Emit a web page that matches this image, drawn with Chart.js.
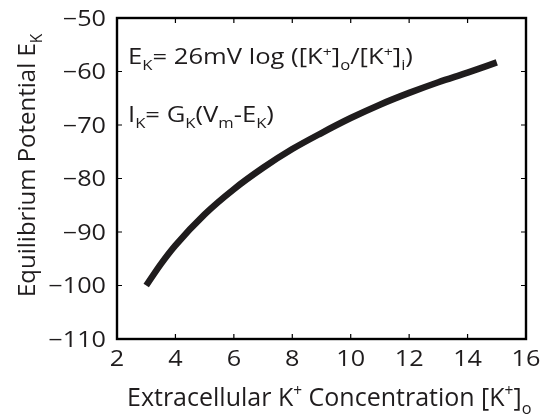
<!DOCTYPE html>
<html>
<head>
<meta charset="utf-8">
<script src="https://cdn.jsdelivr.net/npm/chart.js@4"></script>
<style>
  html, body { margin: 0; padding: 0; background: #fff; }
  #wrap { width: 547px; height: 416px; }
</style>
</head>
<body>
<div id="wrap"><canvas id="chartEK"></canvas></div>
<script>
// Data
const kOut = [3, 3.5, 4, 5, 6, 7, 8, 9, 10, 11, 12, 13, 14, 15];
const eK = [-100, -96.0, -92.5, -86.7, -82.0, -78.0, -74.5, -71.5, -68.7, -66.2, -64.0, -62.0, -60.2, -58.3];
const xTicks = [2, 4, 6, 8, 10, 12, 14, 16];
const yTicks = [-110, -100, -90, -80, -70, -60, -50];

const FONT = '"Open Sans", "DejaVu Sans", sans-serif';
const INK = "#1f1c1d";

// tulis teks dengan subscript / superscript, kx = regangan horizontal
function drawRich(ctx, x, y, parts, size, kx) {
  ctx.save();
  ctx.translate(x, y);
  ctx.scale(kx || 1, 1);
  let cx = 0;
  parts.forEach(([txt, kind]) => {
    let s = size, dy = 0;
    if (kind === "sub") { s = size * 0.65; dy = size * 0.3; }
    if (kind === "sup") { s = size * 0.62; dy = -size * 0.4; }
    ctx.font = s + "px " + FONT;
    ctx.fillText(txt, cx, dy);
    cx += ctx.measureText(txt).width;
  });
  ctx.restore();
}

function drawLabel(ctx, txt, x, y, kx) {
  ctx.save();
  ctx.translate(x, y);
  ctx.scale(kx, 1);
  ctx.fillText(txt, 0, 0);
  ctx.restore();
}

const decorPlugin = {
  id: "decor",
  afterDraw(chart) {
    const ctx = chart.ctx;
    const a = chart.chartArea;
    const sx = chart.scales.x, sy = chart.scales.y;
    ctx.save();
    ctx.strokeStyle = "#000";
    ctx.fillStyle = INK;

    // kotak sumbu
    ctx.lineWidth = 2.4;
    ctx.strokeRect(a.left, a.top, a.right - a.left, a.bottom - a.top);

    // tick ke dalam
    ctx.lineWidth = 1.2;
    const tl = 5;
    xTicks.forEach(v => {
      const px = sx.getPixelForValue(v);
      ctx.beginPath();
      ctx.moveTo(px, a.bottom); ctx.lineTo(px, a.bottom - tl);
      ctx.moveTo(px, a.top); ctx.lineTo(px, a.top + tl);
      ctx.stroke();
    });
    yTicks.forEach(v => {
      const py = sy.getPixelForValue(v);
      ctx.beginPath();
      ctx.moveTo(a.left, py); ctx.lineTo(a.left + tl, py);
      ctx.moveTo(a.right, py); ctx.lineTo(a.right - tl, py);
      ctx.stroke();
    });

    // label tick
    ctx.font = "21px " + FONT;
    ctx.textBaseline = "alphabetic";
    ctx.textAlign = "center";
    xTicks.forEach(v => {
      drawLabel(ctx, String(v), sx.getPixelForValue(v), 366, 1.2);
    });
    ctx.textAlign = "right";
    yTicks.forEach(v => {
      drawLabel(ctx, String(v).replace("-", "\u2212"), 106, sy.getPixelForValue(v) + 7.5, 1.2);
    });

    // judul sumbu x
    ctx.textAlign = "left";
    drawRich(ctx, 127, 406, [
      ["Extracellular K", ""], ["+", "sup"], [" Concentration [K", ""], ["+", "sup"], ["]", ""], ["o", "sub"]
    ], 25, 1);

    // judul sumbu y
    ctx.save();
    ctx.translate(35, 297);
    ctx.rotate(-Math.PI / 2);
    drawRich(ctx, 0, 0, [["Equilibrium Potential E", ""], ["K", "sub"]], 24, 1);
    ctx.restore();

    // anotasi
    drawRich(ctx, 128, 64, [
      ["E", ""], ["K", "sub"], ["= 26mV log ([K", ""], ["+", "sup"], ["]", ""], ["o", "sub"],
      ["/[K", ""], ["+", "sup"], ["]", ""], ["i", "sub"], [")", ""]
    ], 21, 1.22);
    drawRich(ctx, 128, 122, [
      ["I", ""], ["K", "sub"], ["= G", ""], ["K", "sub"], ["(V", ""], ["m", "sub"], ["-E", ""], ["K", "sub"], [")", ""]
    ], 21, 1.22);

    ctx.restore();
  }
};

const ctx = document.getElementById("chartEK").getContext("2d");
window.chartEK = new Chart(ctx, {
  type: "line",
  data: {
    datasets: [{
      data: kOut.map((k, i) => ({ x: k, y: eK[i] })),
      borderColor: INK,
      borderWidth: 6.5,
      pointRadius: 0,
      fill: false,
      cubicInterpolationMode: "monotone"
    }]
  },
  options: {
    responsive: true,
    maintainAspectRatio: false,
    animation: false,
    layout: { padding: { left: 117, top: 18, right: 21, bottom: 77 } },
    plugins: {
      legend: { display: false },
      tooltip: { enabled: false }
    },
    scales: {
      x: { type: "linear", min: 2, max: 16, display: false },
      y: { type: "linear", min: -110, max: -50, display: false }
    }
  },
  plugins: [decorPlugin]
});
</script>
</body>
</html>
